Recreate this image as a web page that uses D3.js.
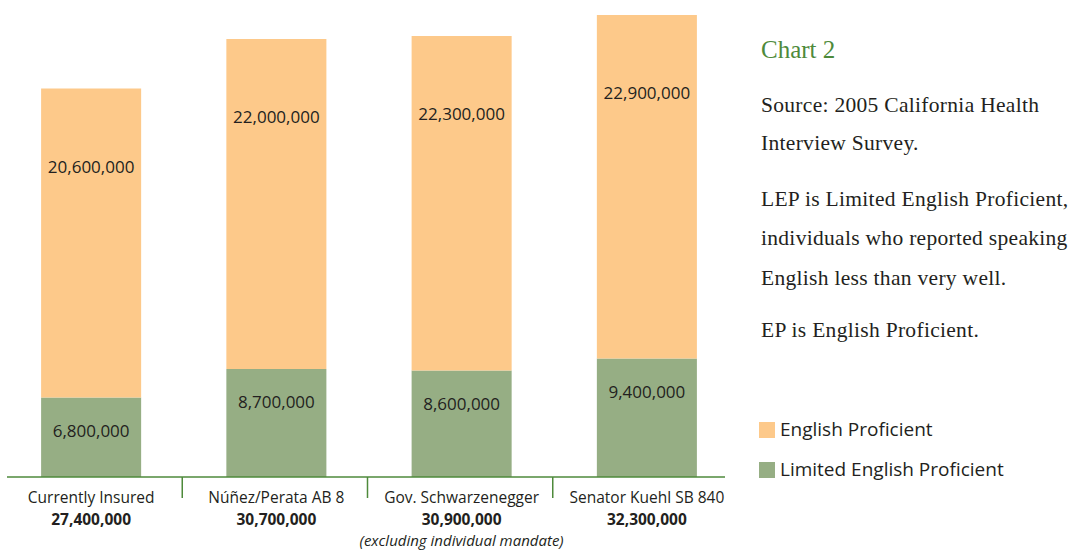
<!DOCTYPE html>
<meta charset="utf-8">
<style>
body { margin: 0; background: #fff; }
svg text { fill: #231f20; }
.sans { font-family: "Open Sans", sans-serif; }
.serif { font-family: "Liberation Serif", serif; }
</style>
<body>
<script src="https://d3js.org/d3.v7.min.js"></script>
<script>

// data
var categories = ["Currently Insured", "Núñez/Perata AB 8", "Gov. Schwarzenegger", "Senator Kuehl SB 840"];
var lepValues = [6800000, 8700000, 8600000, 9400000];
var epValues = [20600000, 22000000, 22300000, 22900000];
var seriesKeys = ["lep", "ep"];
var seriesNames = ["English Proficient", "Limited English Proficient"];
var noteLines = [
    ["Source: 2005 California Health", "Interview Survey."],
    ["LEP is Limited English Proficient,", "individuals who reported speaking", "English less than very well."],
    ["EP is English Proficient."]
];

var width = 1070, height = 555,
    axisY = 477;

var colors = {ep: "#fdc98a", lep: "#96ae84"};
var green = "#4e8a3b";
var fmt = d3.format(",");

var rows = categories.map(function(c, i) {
    return {cat: c, lep: lepValues[i], ep: epValues[i]};
});

var stack = d3.stack().keys(seriesKeys);
var layers = stack(rows);

var x = d3.scaleBand()
    .domain(categories)
    .range([-1.5, 739.5])
    .paddingInner(0.46)
    .paddingOuter(0.23);

// the printed chart does not start its bars at zero, so neither does this scale
var y = d3.scaleLinear()
    .domain([1.5e6, 33.3e6])
    .range([axisY, 0])
    .clamp(true);

var svg = d3.select("body").append("svg")
    .attr("width", width)
    .attr("height", height);

// bars
var layer = svg.selectAll("g.layer")
    .data(layers)
  .enter().append("g")
    .attr("class", "layer")
    .attr("fill", function(d) { return colors[d.key]; });

layer.selectAll("rect")
    .data(function(d) { return d; })
  .enter().append("rect")
    .attr("x", function(d) { return x(d.data.cat); })
    .attr("width", x.bandwidth())
    .attr("y", function(d) { return y(d[1]); })
    .attr("height", function(d) { return y(d[0]) - y(d[1]); });

// values inside bars
layer.selectAll("text")
    .data(function(d) { return d.map(function(p) { p.key = d.key; return p; }); })
  .enter().append("text")
    .attr("class", "sans")
    .attr("text-anchor", "middle")
    .attr("font-size", "17px")
    .attr("x", function(d) { return x(d.data.cat) + x.bandwidth() / 2; })
    .attr("y", function(d) { return y(d[1]) + (d.key == "ep" ? 84 : 39); })
    .text(function(d) { return fmt(d.data[d.key]); });

// axis line and dividers
svg.append("line")
    .attr("x1", 7).attr("x2", 725)
    .attr("y1", axisY).attr("y2", axisY)
    .attr("stroke", green)
    .attr("stroke-width", 1.5);

svg.selectAll("line.divider")
    .data(categories.slice(0, -1))
  .enter().append("line")
    .attr("class", "divider")
    .attr("x1", function(d) { return x(d) + x.bandwidth() + x.step() * x.paddingInner() / 2 - 1.5; })
    .attr("x2", function(d) { return x(d) + x.bandwidth() + x.step() * x.paddingInner() / 2 - 1.5; })
    .attr("y1", axisY).attr("y2", axisY + 21)
    .attr("stroke", green)
    .attr("stroke-width", 1.5);

// category labels and totals
var cat = svg.selectAll("g.cat")
    .data(rows)
  .enter().append("g")
    .attr("class", "cat")
    .attr("transform", function(d) { return "translate(" + (x(d.cat) + x.bandwidth() / 2) + ",0)"; });

cat.append("text")
    .attr("class", "sans")
    .attr("text-anchor", "middle")
    .attr("y", 503)
    .attr("font-size", "15.5px")
    .text(function(d) { return d.cat; });

cat.append("text")
    .attr("class", "sans")
    .attr("text-anchor", "middle")
    .attr("y", 524.5)
    .attr("font-size", "15.5px")
    .attr("font-weight", "bold")
    .text(function(d) { return fmt(d.lep + d.ep); });

svg.append("text")
    .attr("class", "sans")
    .attr("text-anchor", "middle")
    .attr("x", x(categories[2]) + x.bandwidth() / 2)
    .attr("y", 546)
    .attr("font-size", "15px")
    .attr("font-style", "italic")
    .text("(excluding individual mandate)");

// side notes
svg.append("text")
    .attr("class", "serif")
    .attr("x", 761)
    .attr("y", 58)
    .attr("font-size", "25px")
    .style("fill", green)
    .text("Chart 2");

var lineY = [[112, 150], [206, 245, 285], [337]];
noteLines.forEach(function(par, i) {
    par.forEach(function(t, j) {
        svg.append("text")
            .attr("class", "serif")
            .attr("x", 761)
            .attr("y", lineY[i][j])
            .attr("font-size", "21.5px")
            .attr("letter-spacing", "0.3px")
            .text(t);
    });
});

// legend
var legend = svg.selectAll("g.legend")
    .data(["ep", "lep"])
  .enter().append("g")
    .attr("class", "legend")
    .attr("transform", function(d, i) { return "translate(759," + (422 + i * 40) + ")"; });

legend.append("rect")
    .attr("width", 16)
    .attr("height", 16)
    .attr("fill", function(d) { return colors[d]; });

legend.append("text")
    .attr("class", "sans")
    .attr("x", 21)
    .attr("y", 14)
    .attr("font-size", "19px")
    .text(function(d, i) { return seriesNames[i]; });

</script>
</body>
